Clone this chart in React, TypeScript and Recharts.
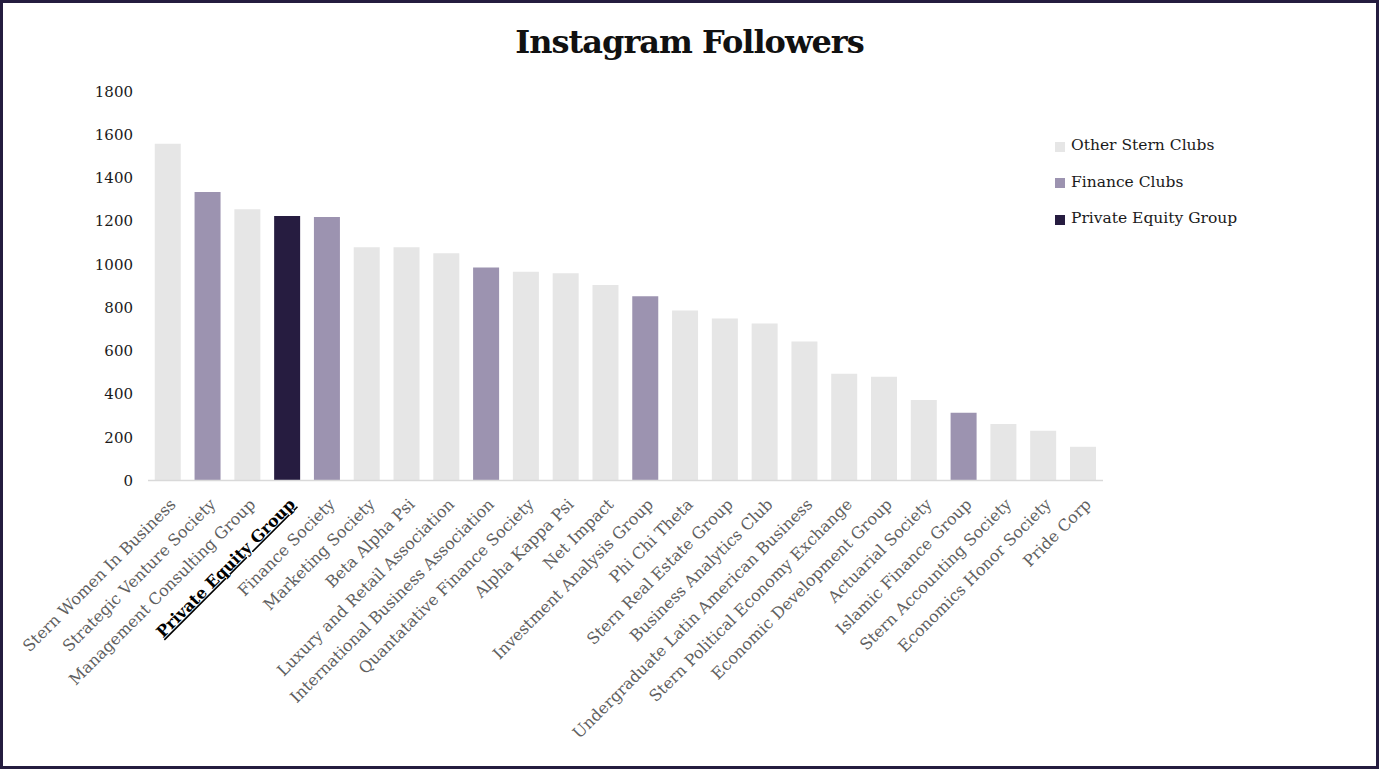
import { BarChart, Bar, XAxis, YAxis, Cell } from 'recharts';

const clubs = [
  'Stern Women In Business',
  'Strategic Venture Society',
  'Management Consulting Group',
  'Private Equity Group',
  'Finance Society',
  'Marketing Society',
  'Beta Alpha Psi',
  'Luxury and Retail Association',
  'International Business Association',
  'Quantatative Finance Society',
  'Alpha Kappa Psi',
  'Net Impact',
  'Investment Analysis Group',
  'Phi Chi Theta',
  'Stern Real Estate Group',
  'Business Analytics Club',
  'Undergraduate Latin American Business',
  'Stern Political Economy Exchange',
  'Economic Development Group',
  'Actuarial Society',
  'Islamic Finance Group',
  'Stern Accounting Society',
  'Economics Honor Society',
  'Pride Corp',
];

const followers = [
  1558, 1335, 1255, 1224, 1219, 1079, 1079, 1051, 986, 966, 959, 905,
  853, 787, 750, 727, 643, 494, 480, 373, 313, 262, 230, 156,
];

// 'other' | 'finance' | 'pe'
const groups = [
  'other', 'finance', 'other', 'pe', 'finance', 'other', 'other', 'other',
  'finance', 'other', 'other', 'other', 'finance', 'other', 'other', 'other',
  'other', 'other', 'other', 'other', 'finance', 'other', 'other', 'other',
];

const yTicks = [0, 200, 400, 600, 800, 1000, 1200, 1400, 1600, 1800];

const legendItems = [
  { key: 'other', label: 'Other Stern Clubs' },
  { key: 'finance', label: 'Finance Clubs' },
  { key: 'pe', label: 'Private Equity Group' },
];

const colors: Record<string, string> = {
  other: '#e6e6e6',
  finance: '#9c93b0',
  pe: '#261c40',
};

const FONT = '"DejaVu Serif", serif';

const data = clubs.map((name, i) => ({ name, value: followers[i], group: groups[i] }));

function ClubTick({ x, y, payload }: any) {
  const isPE = payload.value === 'Private Equity Group';
  return (
    <g transform={`translate(${x + 1},${y + 9})`}>
      <text
        transform="rotate(-45)"
        textAnchor="end"
        dy="0.7em"
        fontFamily={FONT}
        fontSize={16}
        fill={isPE ? '#000' : '#606060'}
        fontWeight={isPE ? 'bold' : 'normal'}
        textDecoration={isPE ? 'underline' : undefined}
      >
        {payload.value}
      </text>
    </g>
  );
}

function ClubLegend() {
  return (
    <div
      style={{
        position: 'absolute',
        left: 1052,
        top: 124,
        fontFamily: FONT,
        fontSize: 15.5,
        color: '#1a1a1a',
      }}
    >
      {legendItems.map((it) => (
        <div key={it.key} style={{ display: 'flex', alignItems: 'center', height: 36.5 }}>
          <span
            style={{
              width: 10,
              height: 10,
              background: colors[it.key],
              display: 'inline-block',
              marginRight: 6,
              marginTop: 3,
            }}
          />
          {it.label}
        </div>
      ))}
    </div>
  );
}

export default function App() {
  return (
    <div
      style={{
        position: 'absolute',
        left: 0,
        top: 0,
        width: 1379,
        height: 769,
        background: '#fff',
        border: '3px solid #241c3f',
        boxSizing: 'border-box',
        overflow: 'hidden',
      }}
    >
      <div
        style={{
          position: 'absolute',
          left: 0,
          width: 1373,
          top: 20,
          textAlign: 'center',
          fontFamily: FONT,
          fontWeight: 'bold',
          fontSize: 32,
          letterSpacing: -1,
          color: '#111',
        }}
      >
        Instagram Followers
      </div>
      <div style={{ position: 'absolute', left: -3, top: -3 }}>
        <BarChart
          width={1379}
          height={769}
          data={data}
          margin={{ top: 91.5, right: 276, bottom: 8.5, left: 0 }}
          barCategoryGap="17%"
        >
          <XAxis
            dataKey="name"
            interval={0}
            tick={<ClubTick />}
            tickLine={false}
            axisLine={{ stroke: '#d9d9d9', strokeWidth: 1.5 }}
            height={280}
          />
          <YAxis
            domain={[0, 1800]}
            ticks={yTicks}
            width={148}
            axisLine={false}
            tickLine={false}
            tickMargin={9}
            tick={{ fontFamily: FONT, fontSize: 15, fill: '#1a1a1a' }}
          />
          <Bar dataKey="value" isAnimationActive={false}>
            {data.map((d) => (
              <Cell key={d.name} fill={colors[d.group]} />
            ))}
          </Bar>
        </BarChart>
      </div>
      <ClubLegend />
    </div>
  );
}
